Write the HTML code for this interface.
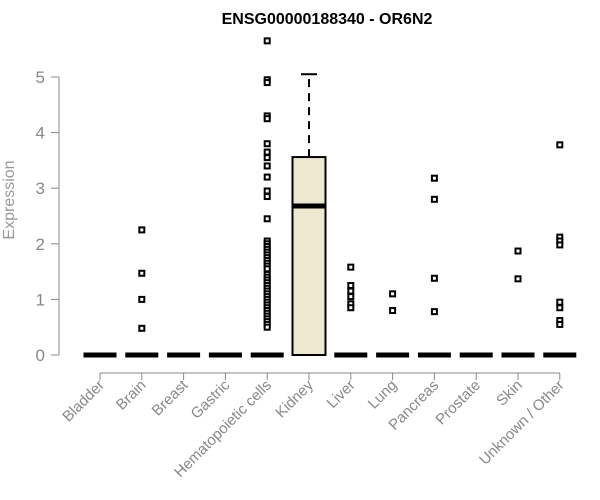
<!DOCTYPE html>
<html><head><meta charset="utf-8"><style>
body{margin:0;background:#fff}
svg{display:block;font-family:"Liberation Sans",Arial,sans-serif}
</style></head><body>
<svg id="chart" width="600" height="500" viewBox="0 0 600 500">
<text x="327" y="24" text-anchor="middle" font-weight="bold" font-size="16">ENSG00000188340 - OR6N2</text>
<text transform="translate(14,200) rotate(-90)" text-anchor="middle" font-size="16" fill="#999">Expression</text>
<g id="axes"></g><g id="marks"></g>
</svg>
<script>
const categories=["Bladder","Brain","Breast","Gastric","Hematopoietic cells","Kidney","Liver","Lung","Pancreas","Prostate","Skin","Unknown / Other"];
const q1=[0,0,0,0,0,0,0,0,0,0,0,0];
const medians=[0,0,0,0,0,2.68,0,0,0,0,0,0];
const q3=[0,0,0,0,0,3.56,0,0,0,0,0,0];
const whiskerHigh=[0,0,0,0,0,5.05,0,0,0,0,0,0];
const outliers=[[],[2.25,1.47,1.0,0.48],[],[],
[5.65,4.95,4.9,4.3,4.25,3.8,3.65,3.55,3.4,3.2,2.95,2.85,2.45,2.05,2.0,1.95,1.9,1.85,1.8,1.75,1.7,1.65,1.6,1.55,1.45,1.4,1.35,1.3,1.25,1.2,1.15,1.1,1.05,1.0,0.95,0.9,0.85,0.8,0.75,0.7,0.65,0.6,0.55,0.5],
[],[1.58,1.25,1.15,1.05,0.92,0.85],[1.1,0.8],[3.18,2.8,1.38,0.78],[],[1.87,1.37],[3.78,2.12,2.05,1.98,0.95,0.85,0.62,0.55]];
const yTicks=[0,1,2,3,4,5];
const NS="http://www.w3.org/2000/svg";
const x=i=>100+i*41.8, y=v=>355-v*55.6;
function mk(tag,attrs,parent){const e=document.createElementNS(NS,tag);for(const k in attrs)e.setAttribute(k,attrs[k]);parent.appendChild(e);return e;}
const ax=document.getElementById('axes'), mg=document.getElementById('marks');
let l=mk('line',{x1:59,x2:59,y1:y(5),y2:y(0),stroke:'#888'},ax);


yTicks.forEach(t=>{
 let tl=mk('line',{x1:51,x2:59,y1:y(t),y2:y(t),stroke:'#888'},ax);
 
 
 let tx=mk('text',{x:45,y:y(t)+6,'text-anchor':'end','font-size':17,fill:'#888'},ax);
 tx.textContent=t;
 
 
});
l=mk('line',{x1:x(0),x2:x(11),y1:373,y2:373,stroke:'#888'},ax);


categories.forEach((c,i)=>{
 let tl=mk('line',{x1:x(i),x2:x(i),y1:373,y2:380,stroke:'#888'},ax);
 
 
 let tx=mk('text',{x:x(i)+5,y:386,'text-anchor':'end','font-size':15,fill:'#888',transform:`rotate(-45 ${x(i)+5} 386)`},ax);
 tx.textContent=c;
 
 
 const cx=x(i), hw=16.5;
 if(whiskerHigh[i]>q3[i]){
  let w=mk('line',{x1:cx,x2:cx,y1:y(q3[i]),y2:y(whiskerHigh[i]),stroke:'#000','stroke-width':2,'stroke-dasharray':'8,6'},mg);
  
  
  let cap=mk('line',{x1:cx-8,x2:cx+8,y1:y(whiskerHigh[i]),y2:y(whiskerHigh[i]),stroke:'#000','stroke-width':2},mg);
  
  
 }
 if(q3[i]>q1[i]){
  let b=mk('rect',{x:cx-hw,y:y(q3[i]),width:2*hw,height:y(q1[i])-y(q3[i]),fill:'#ede8d0',stroke:'#000','stroke-width':2},mg);
  
  
 }
 let m=mk('line',{x1:cx-hw,x2:cx+hw,y1:y(medians[i]),y2:y(medians[i]),stroke:'#000','stroke-width':5},mg);
 
 
 outliers[i].forEach(v=>{
  let p=mk('rect',{x:cx-2.5,y:y(v)-2.5,width:5,height:5,fill:'#fff',stroke:'#000','stroke-width':2},mg);
  
  
 });
});
</script>
</body></html>
